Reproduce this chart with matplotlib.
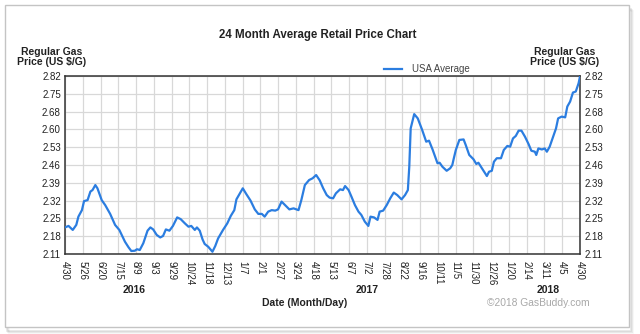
import matplotlib
matplotlib.use('Agg')
import matplotlib.pyplot as plt
import matplotlib.patches as patches
import numpy as np

plt.rcParams['font.family'] = ['Liberation Sans', 'DejaVu Sans']

# Days after 4/30/2016 and average retail price (US $/G)
days = [0, 5, 11, 16, 19, 24, 27, 32, 36, 39, 43, 46, 52, 57, 64, 71, 77, 85, 90, 94,
        99, 102, 106, 111, 117, 121, 125, 130, 135, 139, 143, 148, 153, 159, 164, 170,
        175, 179, 184, 187, 191, 195, 198, 203, 209, 213, 217, 224, 230, 235, 240, 243,
        248, 252, 257, 263, 269, 274, 279, 283, 288, 293, 298, 302, 307, 312, 318, 324,
        331, 335, 340, 346, 351, 356, 361, 366, 371, 375, 380, 384, 390, 394, 397, 402,
        406, 411, 416, 420, 425, 430, 433, 438, 443, 446, 451, 456, 461, 466, 471, 477,
        482, 486, 488, 490, 495, 500, 506, 512, 516, 521, 528, 531, 535, 541, 546, 549,
        551, 554, 559, 565, 568, 573, 579, 583, 586, 591, 594, 598, 601, 605, 608, 612,
        618, 622, 627, 631, 635, 639, 643, 647, 652, 657, 661, 666, 668, 671, 676, 680,
        683, 687, 692, 696, 699, 704, 709, 712, 716, 720, 724, 728, 730]
price = [2.216, 2.222, 2.206, 2.226, 2.259, 2.285, 2.321, 2.325, 2.359, 2.365, 2.385, 2.372,
         2.325, 2.305, 2.270, 2.226, 2.206, 2.159, 2.137, 2.122, 2.123, 2.129, 2.126, 2.153,
         2.203, 2.216, 2.208, 2.186, 2.176, 2.182, 2.208, 2.203, 2.222, 2.256, 2.249, 2.232,
         2.219, 2.222, 2.206, 2.216, 2.203, 2.168, 2.150, 2.139, 2.119, 2.142, 2.172, 2.206,
         2.232, 2.262, 2.285, 2.328, 2.352, 2.372, 2.349, 2.323, 2.288, 2.270, 2.270, 2.259,
         2.279, 2.285, 2.283, 2.288, 2.319, 2.305, 2.288, 2.292, 2.285, 2.325, 2.385, 2.405,
         2.412, 2.425, 2.404, 2.372, 2.345, 2.335, 2.332, 2.352, 2.368, 2.365, 2.381, 2.365,
         2.339, 2.305, 2.279, 2.266, 2.239, 2.222, 2.259, 2.256, 2.246, 2.279, 2.283, 2.305,
         2.332, 2.355, 2.345, 2.328, 2.345, 2.365, 2.458, 2.611, 2.668, 2.651, 2.607, 2.558,
         2.562, 2.527, 2.472, 2.474, 2.458, 2.442, 2.452, 2.465, 2.490, 2.525, 2.565, 2.567,
         2.545, 2.505, 2.488, 2.469, 2.474, 2.452, 2.438, 2.421, 2.438, 2.442, 2.478, 2.492,
         2.492, 2.525, 2.541, 2.538, 2.571, 2.581, 2.602, 2.602, 2.578, 2.549, 2.522, 2.518,
         2.505, 2.531, 2.527, 2.531, 2.518, 2.538, 2.578, 2.611, 2.651, 2.658, 2.655, 2.698,
         2.718, 2.754, 2.758, 2.791, 2.818]

date_labels = ['4/30', '5/26', '6/20', '7/15', '8/9', '9/3', '9/29', '10/24', '11/18', '12/13',
               '1/7', '2/1', '2/27', '3/24', '4/18', '5/13', '6/7', '7/2', '7/28', '8/22',
               '9/16', '10/11', '11/5', '11/30', '12/26', '1/20', '2/14', '3/11', '4/5', '4/30']
price_labels = ['2.11', '2.18', '2.25', '2.32', '2.39', '2.46', '2.53', '2.60', '2.68', '2.75', '2.82']
years = ['2016', '2017', '2018']
year_days = [98, 428, 685]

span = 730
blue = '#2b7de0'
dark = '#222222'

fig = plt.figure(figsize=(6.4, 3.34), dpi=100)
fig.patch.set_facecolor('white')

# Frame with a soft shadow
for k, a in enumerate([0.10, 0.07, 0.04]):
    off = (k + 1) / 640.
    fig.patches.append(patches.Rectangle((6/640. + off, 0.012 - off*1.9), 0.975, 0.965,
                                         transform=fig.transFigure, facecolor='none',
                                         edgecolor='#000000', alpha=a, lw=1.2, zorder=0))
fig.patches.append(patches.Rectangle((5/640., 1 - 327/334.), 624/640., 322/334.,
                                     transform=fig.transFigure, facecolor='white',
                                     edgecolor='#c4c4c4', lw=1.0, zorder=1))

ax = fig.add_axes([65/640., 1 - 254/334., 515/640., 178/334.])
ax.set_zorder(5)
ax.set_facecolor('white')
ax.plot(days, price, color=blue, lw=1.6, label='USA Average', zorder=3)

yt = np.linspace(2.11, 2.82, len(price_labels))
xt = np.arange(len(date_labels)) * span / (len(date_labels) - 1)
ax.set_xlim(0, span)
ax.set_ylim(2.11, 2.82)
ax.set_xticks(xt)
ax.set_xticklabels(date_labels, rotation=-90, fontsize=7, color=dark)
ax.set_yticks(yt)
ax.set_yticklabels(price_labels, fontsize=7, color=dark)
ax.tick_params(axis='x', length=0, pad=5)
ax.tick_params(axis='y', length=0, pad=3, right=True, labelright=True)
ax.grid(True, color='#d8d8d8', lw=0.9)
ax.set_axisbelow(True)
for s in ax.spines.values():
    s.set_color('#333333')
    s.set_linewidth(1.1)

for y, d in zip(years, year_days):
    ax.text(d, -0.20, y, transform=ax.get_xaxis_transform(), ha='center', va='center',
            fontsize=7.5, fontweight='bold', color=dark)

fig.text(318/640., 1 - 35/334., '24 Month Average Retail Price Chart', ha='center',
         va='center', fontsize=8.3, fontweight='bold', color=dark, zorder=6)
fig.text(52/640., 1 - 57/334., 'Regular Gas\nPrice (US $/G)', ha='center', va='center',
         fontsize=7.5, fontweight='bold', color=dark, linespacing=1.1, zorder=6)
fig.text(565/640., 1 - 57/334., 'Regular Gas\nPrice (US $/G)', ha='center', va='center',
         fontsize=7.5, fontweight='bold', color=dark, linespacing=1.1, zorder=6)
fig.text(305/640., 1 - 303/334., 'Date (Month/Day)', ha='center', va='center',
         fontsize=7.5, fontweight='bold', color=dark, zorder=6)
fig.text(538/640., 1 - 303/334., '\u00a92018 GasBuddy.com', ha='center', va='center',
         fontsize=7.4, color='#a8a8a8', zorder=6)

ax.legend(loc='center left', bbox_to_anchor=(384/640., 1 - 69/334.),
          bbox_transform=fig.transFigure, frameon=False, fontsize=7,
          handlelength=1.9, handletextpad=1.0, borderpad=0, borderaxespad=0,
          labelcolor='#444444')

plt.savefig('out.png', dpi=100)
